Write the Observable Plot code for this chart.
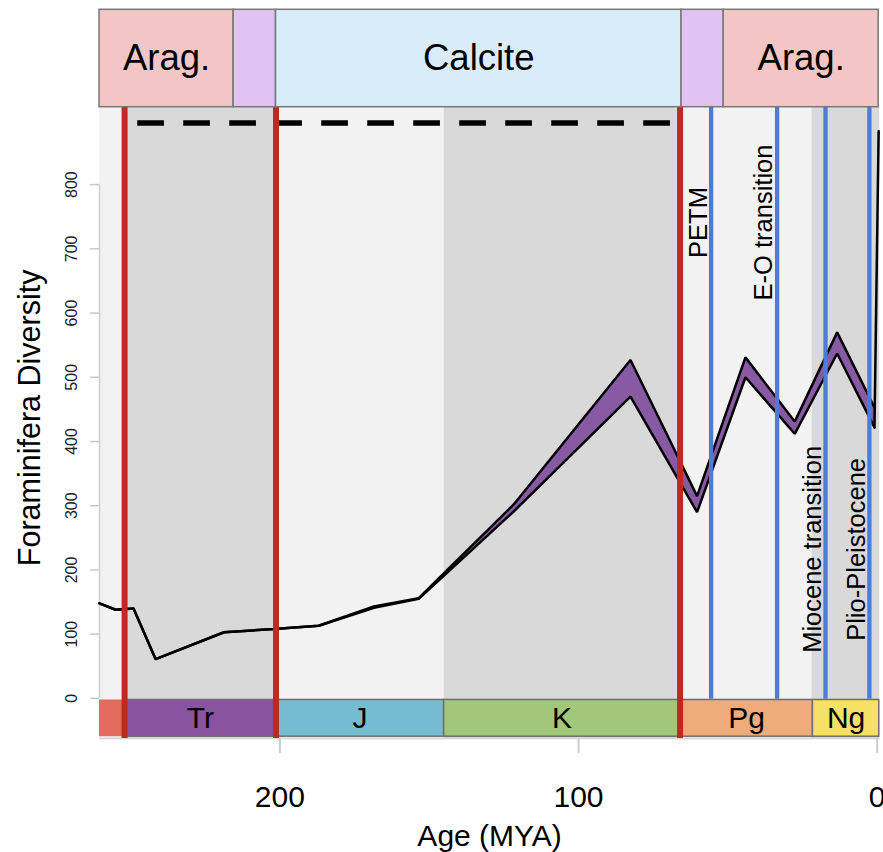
<!DOCTYPE html>
<html><head><meta charset="utf-8">
<script src="https://cdn.jsdelivr.net/npm/d3@7"></script>
<script src="https://cdn.jsdelivr.net/npm/@observablehq/plot@0.6"></script>
<style>
body{margin:0;background:#fff;}
#chart svg{display:block;}
</style>
</head><body><div id="chart"></div>
<script>
// ---- Foraminifera diversity (age in Ma, upper & lower estimate) ----
const age   = [260.4, 255, 249, 241.6, 218.7, 202, 187, 168.5, 153.5, 121.7, 82.6, 60.3, 44.1, 27.6, 13.4, 0.9];
const upper = [148, 138, 140, 61, 103, 108, 113, 143, 156, 302, 527, 315, 531, 431, 570, 453];
const lower = [148, 138, 140, 61, 103, 108, 113, 141, 155, 291, 470, 290, 500, 412, 537, 422];
// modern jump
const recentAge = [0.9, -0.5];
const recentValue = [422, 883];

// ---- Geological periods (bottom bar) ----
const periodNames = ["", "Tr", "J", "K", "Pg", "Ng"];
const periodStart = [260.4, 252, 201.3, 145, 66, 21.5];
const periodEnd   = [252, 201.3, 145, 66, 21.5, -0.7];

// ---- Background shading ----
const shadeStart = [260.4, 252, 201.3, 145, 66, 21.8];
const shadeEnd   = [252, 201.3, 145, 66, 21.8, -0.85];
const shadeTone  = ["light", "dark", "light", "dark", "light", "dark"];

// ---- Carbonate mineralogy (top bar) ----
const seaNames = ["Arag.", "", "Calcite", "", "Arag."];
const seaKind  = ["aragonite", "transition", "calcite", "transition", "aragonite"];
const seaStart = [260.4, 215.5, 201.3, 65.5, 51.4];
const seaEnd   = [215.5, 201.3, 65.5, 51.4, -0.5];

// ---- Events ----
const extinctionAges = [252, 201.3, 66];
const eventAges = [55.6, 33.5, 17.3, 2.6];
const eventNames = ["PETM", "E-O transition", "Miocene transition", "Plio-Pleistocene"];
const eventLabelAge = [59.7, 38, 21.6, 6.7];
const eventLabelValue = [741, 741, 232, 232];

// calcite-sea dashed interval
const dashStart = [247.6];
const dashEnd = [69.2];
const dashLevel = [896];

const yTicks = [0, 100, 200, 300, 400, 500, 600, 700, 800];
const xTicks = [200, 100, 0];

// ---- tables ----
const rows = age.map((a, i) => ({age: a, upper: upper[i], lower: lower[i]}));
const recent = recentAge.map((a, i) => ({age: a, value: recentValue[i]}));
const periods = periodNames.map((n, i) => ({name: n, start: periodStart[i], end: periodEnd[i], mid: (periodStart[i] + periodEnd[i]) / 2}));
const shades = shadeStart.map((s, i) => ({start: s, end: shadeEnd[i], tone: shadeTone[i]}));
const seas = seaNames.map((n, i) => ({name: n, kind: seaKind[i], start: seaStart[i], end: seaEnd[i], mid: (seaStart[i] + seaEnd[i]) / 2}));
const events = eventNames.map((n, i) => ({name: n, age: eventLabelAge[i], value: eventLabelValue[i]}));
const dashes = dashStart.map((s, i) => ({start: s, end: dashEnd[i], level: dashLevel[i]}));

// ---- styles ----
const periodColor = {"": "#e26c5b", "Tr": "#8a53a0", "J": "#74bdd0", "K": "#a1c779", "Pg": "#eeab7c", "Ng": "#f6e166"};
const seaColor = {aragonite: "#f3c6c6", transition: "#e0c3f3", calcite: "#d8ecfa"};
const shadeColor = {light: "#f2f2f2", dark: "#d9d9d9"};

const X0 = 260.4, X1 = -0.85;
const Y0 = -62.5, Y1 = 920.6;
const TOP = 1072.3;        // top of mineralogy bar
const PB_TOP = -2.5, PB_BOT = -59.7; // period bar

const font = "'Liberation Sans', Arial, Helvetica, sans-serif";

const chart = Plot.plot({
  width: 883,
  height: 852,
  marginLeft: 99,
  marginRight: 3.8,
  marginTop: 106.7,
  marginBottom: 114,
  x: {domain: [X0, X1], axis: null},
  y: {domain: [Y0, Y1], axis: null},
  style: {fontFamily: font, background: "#ffffff", color: "#000"},
  marks: [
    // background shading
    Plot.rect(shades, {x1: "start", x2: "end", y1: Y0, y2: Y1, fill: d => shadeColor[d.tone]}),
    // y axis line and ticks
    Plot.ruleX([X0], {y1: 0, y2: 800, stroke: "#cfcfcf", strokeWidth: 1.5}),
    Plot.ruleY(yTicks, {x1: X0 + 3.0, x2: X0, stroke: "#c8c8c8", strokeWidth: 1.5}),
    Plot.text(yTicks, {x: X0, y: d => d, text: d => String(d), dx: -27.2, rotate: -90, fontSize: 16, fill: "#222", textAnchor: "middle", lineAnchor: "middle"}),
    // x axis ticks
    Plot.ruleY([Y0], {x1: X0, x2: X1, stroke: "#d4d4d4", strokeWidth: 1.5}),
    Plot.ruleX(xTicks, {y1: Y0, y2: Y0 - 23.4, stroke: "#cccccc", strokeWidth: 2}),
    Plot.text(xTicks, {x: d => d, y: Y0, text: d => String(d), dy: 59, fontSize: 30, textAnchor: "middle", lineAnchor: "middle"}),
    // axis titles
    Plot.text(["Age (MYA)"], {frameAnchor: "bottom", text: d => d, dy: 97.5, fontSize: 30, textAnchor: "middle", lineAnchor: "middle"}),
    Plot.text(["Foraminifera Diversity"], {frameAnchor: "left", text: d => d, dx: -69, dy: -5, rotate: -90, fontSize: 30.5, textAnchor: "middle", lineAnchor: "middle"}),
    // period bar
    Plot.rect(periods, {x1: "start", x2: "end", y1: PB_BOT, y2: PB_TOP, fill: d => periodColor[d.name], stroke: d => d.name === "" ? "none" : "#6e6e6e", strokeWidth: 1.5}),
    Plot.text(periods, {x: "mid", y: (PB_TOP + PB_BOT) / 2, text: "name", fontSize: 30, textAnchor: "middle", lineAnchor: "middle"}),
    // diversity band
    Plot.areaY(rows, {x: "age", y1: "lower", y2: "upper", fill: "#875aa3", curve: "linear"}),
    Plot.line(rows, {x: "age", y: "upper", stroke: "#000", strokeWidth: 2.5, strokeLinejoin: "miter"}),
    Plot.line(rows, {x: "age", y: "lower", stroke: "#000", strokeWidth: 2.5, strokeLinejoin: "miter"}),
    Plot.line(recent, {x: "age", y: "value", stroke: "#000", strokeWidth: 2.5}),
    // calcite sea dashed line
    Plot.ruleY(dashes, {x1: "start", x2: "end", y: "level", stroke: "#000", strokeWidth: 5.5, strokeDasharray: "26.7,19.3"}),
    // extinction & event lines
    Plot.ruleX(extinctionAges, {x: d => d, y1: Y0, y2: Y1, stroke: "#be2a1f", strokeWidth: 6}),
    Plot.ruleX(eventAges, {x: d => d, y1: -1.5, y2: Y1, stroke: "#4b7dd7", strokeWidth: 4.3}),
    Plot.text(events, {x: "age", y: "value", text: "name", rotate: -90, fontSize: 25.5, textAnchor: "middle", lineAnchor: "middle"}),
    // mineralogy bar
    Plot.rect(seas, {x1: "start", x2: "end", y1: Y1, y2: TOP, fill: d => seaColor[d.kind], stroke: "#777", strokeWidth: 1.5}),
    Plot.text(seas, {x: "mid", y: (Y1 + TOP) / 2, text: "name", fontSize: 36.5, textAnchor: "middle", lineAnchor: "middle"})
  ]
});
document.getElementById("chart").appendChild(chart);
</script>
</body></html>
